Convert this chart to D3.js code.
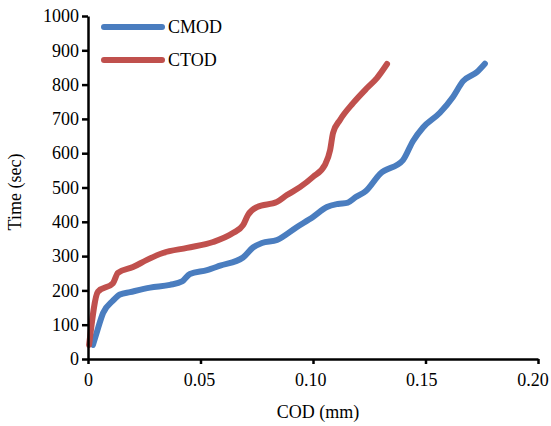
<!DOCTYPE html>
<html>
<head>
<meta charset="utf-8">
<script src="https://cdn.jsdelivr.net/npm/d3@7"></script>
<style>
	body { margin: 0; background: #fff; }
	text { font-family: 'Liberation Serif', 'Times New Roman', serif; fill: #000; }
</style>
</head>
<body>
<div id="chart"></div>
<script>
// values: [COD (mm), time (sec)]
const cmod = [
	[0.0022, 41], [0.004, 80], [0.0067, 134], [0.0111, 170], [0.0142, 188],
	[0.0187, 195], [0.0276, 208], [0.0364, 216], [0.0418, 226], [0.0453, 248],
	[0.0529, 259], [0.0587, 272], [0.0689, 296], [0.0733, 325], [0.0773, 338],
	[0.084, 347], [0.0929, 385], [0.1, 414], [0.1062, 443], [0.111, 452],
	[0.1155, 456], [0.119, 472], [0.1235, 490], [0.1298, 540], [0.14, 580],
	[0.1444, 635], [0.1489, 675], [0.1564, 718], [0.1622, 764], [0.1667, 810],
	[0.1729, 837], [0.1764, 861],
]
const ctod = [
	[0.0005, 41], [0.0044, 196], [0.0111, 221], [0.0133, 251], [0.02, 268],
	[0.0262, 289], [0.0333, 309], [0.044, 324], [0.0556, 341], [0.0644, 367],
	[0.0689, 390], [0.0711, 420], [0.0751, 443], [0.084, 458], [0.0884, 478],
	[0.0942, 501], [0.1, 531], [0.1053, 566], [0.1076, 609], [0.1089, 659],
	[0.112, 697], [0.1178, 746], [0.124, 790], [0.1284, 819], [0.1329, 860],
]
const seriesNames = ['CMOD', 'CTOD']
const seriesColors = ['#4a7dbf', '#c0504d']
const xTicks = [0, 0.05, 0.1, 0.15, 0.2]
const yTicks = [0, 100, 200, 300, 400, 500, 600, 700, 800, 900, 1000]

const fullWidth = 551
const fullHeight = 426
const margin = {top: 16, right: 13, bottom: 67, left: 88}
const width = fullWidth - margin.left - margin.right
const height = fullHeight - margin.top - margin.bottom

const svg = d3
	.select('#chart')
	.append('svg')
	.attr('width', fullWidth)
	.attr('height', fullHeight)
const g = svg.append('g').attr('transform', `translate(${margin.left}, ${margin.top})`)

const x = d3.scaleLinear().domain([0, 0.2]).range([0, width])
const y = d3.scaleLinear().domain([0, 1000]).range([height, 0])

const line = d3
	.line()
	.x((d) => x(d[0]))
	.y((d) => y(d[1]))
	.curve(d3.curveMonotoneX)

;[cmod, ctod].forEach((s, i) => {
	g.append('path')
		.datum(s)
		.attr('fill', 'none')
		.attr('stroke', seriesColors[i])
		.attr('stroke-width', 6)
		.attr('stroke-linecap', 'round')
		.attr('stroke-linejoin', 'round')
		.attr('d', line)
})

const xAxis = g
	.append('g')
	.attr('transform', `translate(0, ${height})`)
	.call(
		d3.axisBottom(x).tickValues(xTicks).tickSize(5).tickSizeOuter(0).tickPadding(9)
			.tickFormat((d) => (d === 0 ? '0' : d3.format('.2f')(d)))
	)
const yAxis = g
	.append('g')
	.call(
		d3.axisLeft(y).tickValues(yTicks).tickSize(6).tickSizeOuter(0).tickPadding(3)
			.tickFormat(d3.format('d'))
	)

;[xAxis, yAxis].forEach((a) => {
	a.select('.domain').attr('stroke', '#000').attr('stroke-width', 2.5)
	a.selectAll('.tick line').attr('stroke', '#000').attr('stroke-width', 2.5)
	a.selectAll('.tick text')
		.attr('font-family', "'Liberation Serif', 'Times New Roman', serif")
		.attr('font-size', 18)
		.attr('fill', '#000')
})
// Excel packs the x labels slightly to the left of their ticks
xAxis.selectAll('.tick text').attr('dx', (d) => -d * 28)

svg.append('text')
	.attr('x', 318)
	.attr('y', 418)
	.attr('text-anchor', 'middle')
	.attr('font-size', 18)
	.text('COD (mm)')

svg.append('text')
	.attr('transform', 'translate(21, 192) rotate(-90)')
	.attr('text-anchor', 'middle')
	.attr('font-size', 18)
	.text('Time (sec)')

const legend = svg.append('g')
seriesNames.forEach((name, i) => {
	const ly = 27 + i * 33
	legend.append('line')
		.attr('x1', 104).attr('x2', 162)
		.attr('y1', ly).attr('y2', ly)
		.attr('stroke', seriesColors[i])
		.attr('stroke-width', 6)
		.attr('stroke-linecap', 'round')
	legend.append('text')
		.attr('x', 168)
		.attr('y', ly + 6)
		.attr('font-size', 18)
		.text(name)
})
</script>
</body>
</html>
